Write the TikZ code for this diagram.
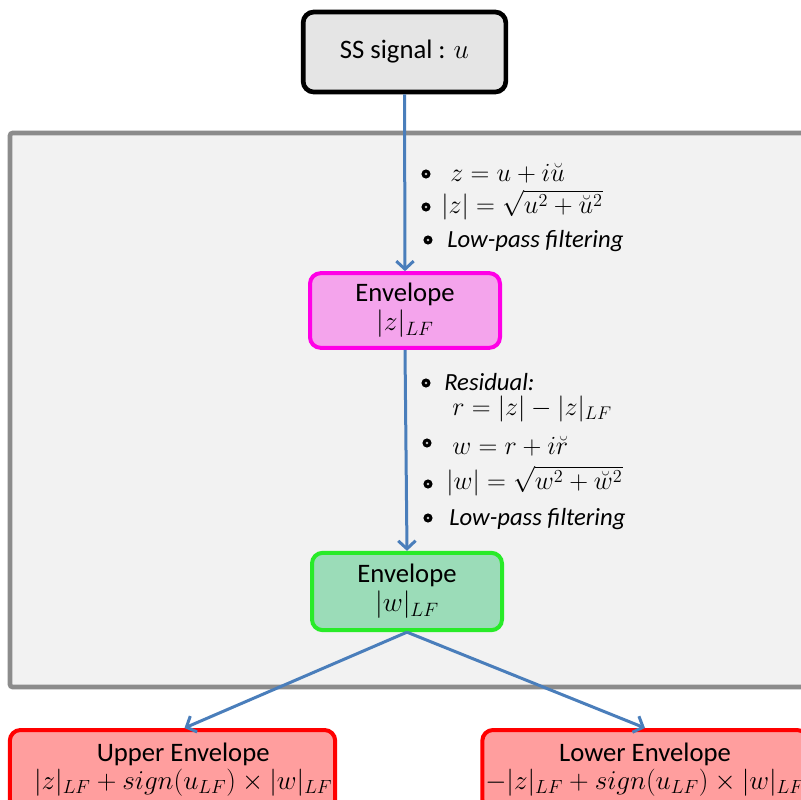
\RequirePackage{fix-cm}
\documentclass[tikz,border=0pt]{standalone}
\usepackage{fontspec}
\setmainfont{Carlito}
\usetikzlibrary{arrows.meta,calc}
\definecolor{arrowblue}{RGB}{74,126,187}
\definecolor{topfill}{RGB}{229,229,229}
\definecolor{framefill}{RGB}{242,242,242}
\definecolor{framedraw}{RGB}{140,140,140}
\definecolor{pinkfill}{RGB}{244,164,236}
\definecolor{pinkdraw}{RGB}{255,0,230}
\definecolor{greenfill}{RGB}{155,220,184}
\definecolor{greendraw}{RGB}{40,235,40}
\definecolor{redfill}{RGB}{255,158,158}
\definecolor{reddraw}{RGB}{255,0,0}
\newcommand{\bigmath}[1]{{\fontsize{20.4}{24}\selectfont$#1$}}
\newcommand{\boxmath}[1]{{\fontsize{20.7}{24}\selectfont$#1$}}
\tikzset{
  box/.style={rounded corners=8pt, align=center, inner sep=0pt, line width=3pt},
  topbox/.style={box, draw=black, fill=topfill, line width=3.5pt, minimum width=152pt, minimum height=60pt},
  pinkbox/.style={box, draw=pinkdraw, fill=pinkfill, minimum width=142.5pt, minimum height=56pt},
  greenbox/.style={box, draw=greendraw, fill=greenfill, minimum width=142.5pt, minimum height=58pt},
  redbox/.style={box, draw=reddraw, fill=redfill, minimum width=244pt, minimum height=60pt},
  flow/.style={draw=arrowblue, line width=2.25pt, -{Straight Barb[length=6pt,width=13pt]}},
  bul/.style={circle, draw=black, fill=gray!50, line width=2.2pt, minimum size=4.5pt, inner sep=0pt},
  itm/.style={anchor=west, inner sep=0pt, font=\fontsize{18.5}{22}\selectfont},
  mitm/.style={anchor=west, inner sep=0pt, font=\fontsize{19.6}{23}\selectfont},
  frame/.style={draw=framedraw, fill=framefill, line width=3.5pt, rounded corners=2pt}
}
\begin{document}
\begin{tikzpicture}[x=0.75pt,y=-0.75pt, font=\fontsize{20}{23}\selectfont]
\useasboundingbox (0,0) rectangle (801,800);
\clip (0,0) rectangle (801,800);
\fill[white] (0,0) rectangle (801,800);
% background frame
\draw[frame] (10,133) rectangle (850,687);
% nodes
\node[topbox] (top) at (404.5,52) {SS signal : \boxmath{u}};
\node[pinkbox] (env1) at (405,310.5) {Envelope\\[-1pt] \boxmath{|z|_{LF}}};
\node[greenbox] (env2) at (407,591.5) {Envelope\\[-1pt] \boxmath{|w|_{LF}}};
\node[redbox] (upper) at (172.5,770) {\hspace*{16pt}Upper Envelope\\[-2pt] \hspace*{16pt}\bigmath{|z|_{LF}+sign(u_{LF})\times|w|_{LF}}};
\node[redbox] (lower) at (645,770) {Lower Envelope\\[-2pt] \bigmath{-|z|_{LF}+sign(u_{LF})\times|w|_{LF}}};
% connectors
\draw[flow] (top.south) -- (env1.north);
\draw[flow] (env1.south) -- (env2.north);
\draw[flow] (env2.south) -- ([xshift=9pt]upper.north);
\draw[flow] (env2.south) -- (lower.north);
% first list
\node[bul] (b1) at (426,174) {};
\node[bul] (b2) at (426,207) {};
\node[bul] (b3) at (428,240) {};
\node[mitm] (t1) at (450,173) {$z=u+i\breve{u}$};
\node[mitm] (t2) at (441,205) {$|z|=\sqrt{u^2+\breve{u}^2}$};
\node[itm] (t3) at (447,241) {\textit{Low-pass filtering}};
% second list
\node[bul] (c1) at (426,383) {};
\node[itm] (s1) at (444,382) {\textit{Residual:}};
\node[mitm] (s1b) at (452,409) {$r=|z|-|z|_{LF}$};
\node[bul] (c2) at (427,443) {};
\node[mitm] (s2) at (452,446) {$w=r+i\breve{r}$};
\node[bul] (c3) at (428,484) {};
\node[mitm] (s3) at (446,481) {$|w|=\sqrt{w^2+\breve{w}^2}$};
\node[bul] (c4) at (428,518) {};
\node[itm] (s4) at (449,519) {\textit{Low-pass filtering}};
\end{tikzpicture}
\end{document}
